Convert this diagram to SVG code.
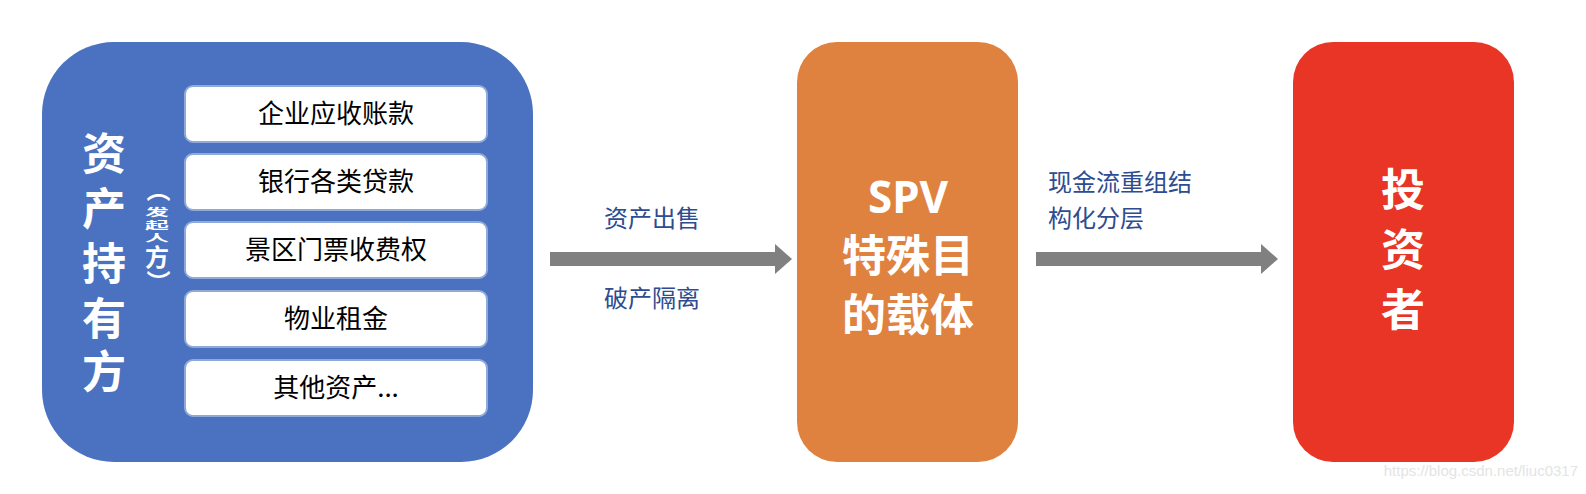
<svg xmlns="http://www.w3.org/2000/svg" width="1586" height="494" viewBox="0 0 1586 494">
<style>
.cjk{font-family:"Noto Sans CJK SC","Noto Sans",sans-serif}
.big{font-size:44px;font-weight:bold;fill:#fff;text-anchor:middle}
.item rect{fill:#fff;stroke:#8FA9D8;stroke-width:2}
.item text{font-size:26px;fill:#000;text-anchor:middle}
.lbl{font-size:24px;fill:#2E4C8F}
</style>
<defs><marker id="ah" markerUnits="userSpaceOnUse" markerWidth="18" markerHeight="30" refX="0" refY="15" orient="auto"><path d="M0,0L17,15L0,30z" fill="#808080"/></marker></defs>
<g id="holder">
<rect x="42" y="42" width="491" height="420" rx="72" fill="#4A72C0"/>
<g class="cjk big" font-size="42"><text x="104" y="170">资</text><text x="104" y="225">产</text><text x="104" y="280">持</text><text x="104" y="335">有</text><text x="104" y="388">方</text></g>
<g class="cjk" font-size="24" font-weight="bold" fill="#fff" text-anchor="middle">
<text x="0" y="0" transform="translate(157 190) rotate(90)" dominant-baseline="middle">（</text>
<text x="0" y="0" transform="translate(157 216) scale(1 0.42)">发</text>
<text x="0" y="0" transform="translate(157 229) scale(1 0.42)">起</text>
<text x="0" y="0" transform="translate(157 242) scale(1 0.42)">人</text>
<text x="157" y="266">方</text>
<text x="0" y="0" transform="translate(157 282) rotate(90)" dominant-baseline="middle">）</text>
</g>
<g class="item cjk" id="i1"><rect x="185" y="86" width="302" height="56" rx="8"/><text x="336" y="123">企业应收账款</text></g>
<g class="item cjk" id="i2"><rect x="185" y="154" width="302" height="56" rx="8"/><text x="336" y="191">银行各类贷款</text></g>
<g class="item cjk" id="i3"><rect x="185" y="222" width="302" height="56" rx="8"/><text x="336" y="259">景区门票收费权</text></g>
<g class="item cjk" id="i4"><rect x="185" y="291" width="302" height="56" rx="8"/><text x="336" y="328">物业租金</text></g>
<g class="item cjk" id="i5"><rect x="185" y="360" width="302" height="56" rx="8"/><text x="336" y="397">其他资产...</text></g>
</g>
<g id="spv">
<rect x="797" y="42" width="221" height="420" rx="40" fill="#E0823F"/>
<g class="big"><text x="908" y="213" font-family="'Noto Sans',sans-serif">SPV</text><text class="cjk" x="908" y="272">特殊目</text><text class="cjk" x="908" y="331">的载体</text></g>
</g>
<g id="investor">
<rect x="1293" y="42" width="221" height="420" rx="40" fill="#E83525"/>
<g class="big cjk"><text x="1403" y="206">投</text><text x="1403" y="266">资</text><text x="1403" y="326">者</text></g>
</g>
<g id="connectors" stroke="#808080" stroke-width="14" marker-end="url(#ah)">
<line x1="550" y1="259" x2="775" y2="259"/>
<line x1="1036" y1="259" x2="1261" y2="259"/>
</g>
<g class="cjk lbl">
<text x="652" y="227" text-anchor="middle">资产出售</text>
<text x="652" y="307" text-anchor="middle">破产隔离</text>
<text x="1048" y="191">现金流重组结</text>
<text x="1048" y="227">构化分层</text>
</g>
<text x="1578" y="476" text-anchor="end" font-family="'Liberation Sans',sans-serif" font-size="15" fill="#E4E4E4">https://blog.csdn.net/liuc0317</text>
</svg>
